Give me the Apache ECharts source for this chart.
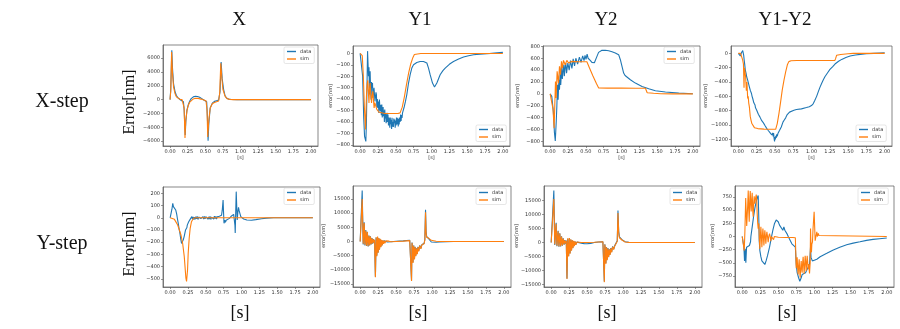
<!DOCTYPE html>
<html>
<head>
<meta charset="utf-8">
<script src="https://cdn.jsdelivr.net/npm/echarts@6/dist/echarts.min.js"></script>
<style>
  html, body { margin: 0; padding: 0; background: #fff; }
  #chart { width: 900px; height: 329px; }
</style>
</head>
<body>
<div id="chart"></div>
<script>
// Column and row headings
const columns = ['X', 'Y1', 'Y2', 'Y1-Y2'];
const rows = ['X-step', 'Y-step'];
const seriesNames = ['data', 'sim'];

// Tick values
const timeTicks = [0, 0.25, 0.5, 0.75, 1.0, 1.25, 1.5, 1.75, 2.0];
const ticksXstepX = [-6000, -4000, -2000, 0, 2000, 4000, 6000];
const ticksXstepY1 = [-800, -700, -600, -500, -400, -300, -200, -100, 0];
const ticksXstepY2 = [-800, -600, -400, -200, 0, 200, 400, 600, 800];
const ticksXstepY12 = [-1200, -1000, -800, -600, -400, -200, 0];
const ticksYstepX = [-500, -400, -300, -200, -100, 0, 100, 200];
const ticksYstepY1 = [-15000, -10000, -5000, 0, 5000, 10000, 15000];
const ticksYstepY2 = [-15000, -10000, -5000, 0, 5000, 10000, 15000];
const ticksYstepY12 = [-750, -500, -250, 0, 250, 500, 750];

// ---- X-step response: [time s, error nm] ----
const xStepX_data = [[0,0],[0.01,1500],[0.025,7150],[0.035,4500],[0.05,2300],[0.07,1200],[0.09,600],[0.11,300],[0.13,100],[0.15,-50],[0.17,-150],[0.19,-300],[0.2,-1500],[0.215,-5100],[0.225,-3000],[0.24,-1500],[0.26,-700],[0.28,-200],[0.3,150],[0.33,400],[0.36,480],[0.39,450],[0.42,350],[0.45,150],[0.48,-50],[0.5,-200],[0.52,-300],[0.53,-2500],[0.54,-5950],[0.55,-3500],[0.57,-1200],[0.6,-500],[0.63,-250],[0.66,-150],[0.69,-50],[0.71,1200],[0.725,5450],[0.74,3000],[0.76,1500],[0.78,600],[0.8,250],[0.83,80],[0.87,20],[0.95,0],[2,0]];
const xStepX_sim = [[0,0],[0.01,1200],[0.022,6900],[0.035,3800],[0.05,1800],[0.07,900],[0.09,400],[0.11,200],[0.14,50],[0.17,0],[0.19,-100],[0.2,-1200],[0.212,-5550],[0.222,-3200],[0.24,-1600],[0.26,-800],[0.28,-350],[0.3,-100],[0.33,100],[0.36,200],[0.4,180],[0.44,80],[0.48,-50],[0.51,-150],[0.525,-1500],[0.535,-5400],[0.55,-3000],[0.57,-1200],[0.6,-600],[0.63,-400],[0.66,-300],[0.69,-200],[0.705,1000],[0.72,5250],[0.735,3200],[0.75,1500],[0.78,500],[0.81,150],[0.85,30],[0.9,0],[2,0]];

const xStepY1_data = [[0,0],[0.02,-5],[0.035,-200],[0.05,-560],[0.062,-725],[0.072,-740],[0.08,-770],[0.088,-600],[0.097,-250],[0.104,20],[0.11,-80],[0.117,-200],[0.124,-120],[0.131,-360],[0.136,-210],[0.14,-157],[0.147,-330],[0.154,-404],[0.16,-250],[0.166,-300],[0.173,-259],[0.18,-390],[0.187,-375],[0.194,-300],[0.201,-288],[0.208,-420],[0.215,-433],[0.222,-340],[0.228,-360],[0.234,-470],[0.241,-400],[0.248,-477],[0.256,-420],[0.262,-520],[0.27,-404],[0.276,-470],[0.283,-506],[0.29,-450],[0.297,-540],[0.304,-448],[0.31,-560],[0.316,-500],[0.322,-470],[0.327,-550],[0.334,-500],[0.34,-600],[0.345,-491],[0.352,-570],[0.358,-530],[0.364,-610],[0.37,-579],[0.377,-520],[0.383,-600],[0.39,-535],[0.397,-630],[0.404,-560],[0.41,-600],[0.416,-650],[0.422,-560],[0.428,-620],[0.435,-580],[0.441,-660],[0.447,-564],[0.453,-640],[0.46,-600],[0.466,-643],[0.472,-570],[0.478,-610],[0.485,-579],[0.491,-650],[0.497,-590],[0.503,-631],[0.509,-560],[0.515,-620],[0.521,-600],[0.528,-564],[0.534,-640],[0.54,-575],[0.547,-622],[0.553,-560],[0.56,-600],[0.567,-535],[0.574,-590],[0.58,-540],[0.587,-564],[0.594,-520],[0.607,-510],[0.62,-462],[0.635,-420],[0.654,-360],[0.678,-259],[0.701,-186],[0.724,-128],[0.748,-99],[0.771,-85],[0.794,-79],[0.841,-70],[0.888,-70],[0.935,-84],[0.958,-128],[0.981,-186],[1.014,-259],[1.042,-294],[1.055,-290],[1.075,-259],[1.121,-186],[1.16,-150],[1.192,-128],[1.25,-95],[1.308,-70],[1.38,-48],[1.449,-32],[1.52,-20],[1.589,-12],[1.68,-6],[1.776,-3],[1.88,3],[2.0,9]];
const xStepY1_sim = [[0,0],[0.02,0],[0.03,-20],[0.045,-200],[0.06,-480],[0.075,-666],[0.082,-500],[0.09,-350],[0.1,-260],[0.107,-235],[0.115,-330],[0.124,-433],[0.13,-320],[0.14,-259],[0.148,-350],[0.16,-433],[0.166,-380],[0.178,-332],[0.186,-400],[0.196,-477],[0.205,-430],[0.215,-450],[0.234,-490],[0.248,-506],[0.265,-515],[0.29,-522],[0.35,-525],[0.45,-525],[0.53,-525],[0.56,-520],[0.59,-470],[0.62,-380],[0.65,-270],[0.68,-170],[0.71,-90],[0.74,-35],[0.76,-10],[0.78,-2],[0.85,0],[2.0,0]];

const xStepY2_data = [[0,0],[0.023,-42],[0.045,-300],[0.06,-650],[0.072,-790],[0.078,-770],[0.086,-450],[0.094,-210],[0.103,154],[0.112,-98],[0.122,239],[0.131,70],[0.141,379],[0.148,150],[0.155,126],[0.164,463],[0.171,250],[0.178,239],[0.185,420],[0.192,491],[0.199,300],[0.206,323],[0.213,480],[0.22,519],[0.23,350],[0.239,379],[0.248,520],[0.258,547],[0.267,400],[0.276,418],[0.285,560],[0.295,564],[0.305,430],[0.314,463],[0.323,590],[0.333,587],[0.342,470],[0.351,491],[0.36,600],[0.375,604],[0.385,500],[0.398,519],[0.41,620],[0.422,620],[0.433,530],[0.445,547],[0.456,640],[0.468,632],[0.475,560],[0.482,564],[0.489,650],[0.496,660],[0.503,580],[0.511,575],[0.518,670],[0.525,648],[0.532,600],[0.539,587],[0.55,570],[0.562,564],[0.575,540],[0.585,530],[0.6,519],[0.609,515],[0.62,525],[0.632,547],[0.656,632],[0.679,699],[0.7,720],[0.726,733],[0.773,735],[0.82,727],[0.867,710],[0.913,690],[0.94,676],[0.96,660],[0.984,575],[1.007,463],[1.03,351],[1.05,310],[1.077,283],[1.124,239],[1.194,182],[1.288,126],[1.382,87],[1.475,53],[1.616,31],[1.803,14],[2.0,3]];
const xStepY2_sim = [[0,0],[0.023,-14],[0.04,-250],[0.056,-575],[0.065,-200],[0.075,210],[0.084,-70],[0.098,379],[0.117,182],[0.131,463],[0.145,323],[0.159,547],[0.173,435],[0.187,564],[0.211,491],[0.234,564],[0.258,519],[0.3,547],[0.4,540],[0.515,540],[0.55,440],[0.6,300],[0.65,170],[0.68,100],[0.8,98],[1.0,98],[1.2,96],[1.335,95],[1.36,20],[1.45,10],[1.55,4],[1.71,0],[2.0,0]];

const xStepY12_data = [[0,0],[0.014,0],[0.028,-37],[0.035,-10],[0.041,5],[0.05,23],[0.06,40],[0.066,10],[0.073,-23],[0.08,-93],[0.087,-150],[0.095,-230],[0.106,-280],[0.115,-330],[0.122,-310],[0.128,-374],[0.135,-400],[0.142,-380],[0.151,-467],[0.158,-450],[0.165,-520],[0.174,-537],[0.18,-560],[0.188,-600],[0.197,-630],[0.205,-640],[0.212,-690],[0.22,-677],[0.228,-720],[0.235,-760],[0.243,-747],[0.25,-790],[0.258,-800],[0.266,-817],[0.274,-850],[0.282,-845],[0.289,-864],[0.296,-890],[0.304,-880],[0.312,-910],[0.32,-940],[0.327,-925],[0.335,-957],[0.343,-970],[0.35,-960],[0.358,-980],[0.366,-1010],[0.373,-1000],[0.381,-1018],[0.39,-1050],[0.397,-1030],[0.404,-1037],[0.412,-1080],[0.42,-1060],[0.427,-1074],[0.435,-1110],[0.442,-1090],[0.45,-1097],[0.457,-1140],[0.463,-1144],[0.47,-1110],[0.476,-1160],[0.482,-1111],[0.488,-1180],[0.495,-1230],[0.5,-1167],[0.507,-1200],[0.512,-1150],[0.518,-1181],[0.525,-1130],[0.532,-1160],[0.541,-1120],[0.55,-1110],[0.564,-1074],[0.587,-1027],[0.61,-960],[0.628,-930],[0.647,-900],[0.665,-860],[0.679,-840],[0.7,-820],[0.725,-803],[0.76,-795],[0.794,-784],[0.862,-775],[0.931,-756],[0.97,-745],[1.0,-728],[1.025,-700],[1.046,-654],[1.07,-600],[1.092,-537],[1.115,-475],[1.138,-420],[1.16,-372],[1.183,-327],[1.22,-270],[1.252,-224],[1.29,-185],[1.321,-149],[1.37,-110],[1.413,-84],[1.47,-58],[1.528,-37],[1.6,-22],[1.665,-14],[1.75,-6],[1.849,0],[1.93,5],[2.0,9]];
const xStepY12_sim = [[0,0],[0.03,0],[0.045,-23],[0.06,-93],[0.07,-150],[0.078,-480],[0.083,-200],[0.09,-250],[0.1,-330],[0.11,-520],[0.118,-400],[0.128,-630],[0.135,-600],[0.142,-690],[0.151,-747],[0.163,-880],[0.174,-934],[0.185,-980],[0.197,-1004],[0.22,-1037],[0.266,-1050],[0.35,-1058],[0.45,-1060],[0.51,-1060],[0.532,-980],[0.555,-840],[0.578,-677],[0.6,-514],[0.624,-374],[0.647,-257],[0.67,-160],[0.69,-115],[0.72,-103],[0.8,-100],[1.0,-100],[1.2,-100],[1.32,-98],[1.33,-70],[1.344,-25],[1.4,-15],[1.5,-5],[1.57,0],[2.0,0]];

// ---- Y-step response: [time s, error nm] ----
const yStepX_data = [[0,0],[0.014,0],[0.025,70],[0.037,118],[0.046,91],[0.055,105],[0.064,85],[0.078,64],[0.092,30],[0.101,-4],[0.115,-50],[0.124,-86],[0.138,-130],[0.147,-168],[0.16,-210],[0.166,-222],[0.175,-200],[0.184,-181],[0.19,-175],[0.198,-150],[0.207,-140],[0.216,-100],[0.226,-86],[0.235,-80],[0.24,-60],[0.26,-32],[0.28,-13],[0.29,-5],[0.304,9],[0.313,-10],[0.322,8],[0.332,-15],[0.341,5],[0.35,-12],[0.36,10],[0.37,-8],[0.38,12],[0.39,-14],[0.4,6],[0.41,-10],[0.42,14],[0.43,-6],[0.44,10],[0.45,-14],[0.46,8],[0.47,-10],[0.48,12],[0.49,-8],[0.5,10],[0.51,-6],[0.52,14],[0.53,-12],[0.54,8],[0.55,-10],[0.56,12],[0.57,-14],[0.58,6],[0.59,-8],[0.6,10],[0.61,-12],[0.62,14],[0.63,-6],[0.64,12],[0.65,-10],[0.66,8],[0.67,16],[0.68,-8],[0.69,12],[0.7,4],[0.71,10],[0.72,20],[0.73,60],[0.742,145],[0.75,20],[0.755,-45],[0.765,-20],[0.775,-38],[0.785,-20],[0.795,-32],[0.81,-15],[0.83,-5],[0.85,10],[0.86,15],[0.87,25],[0.88,18],[0.89,28],[0.9,20],[0.908,-60],[0.912,-125],[0.919,50],[0.926,214],[0.935,60],[0.94,-18],[0.948,40],[0.958,85],[0.966,60],[0.972,50],[0.99,9],[1.03,-10],[1.075,-18],[1.14,-20],[1.2,-15],[1.28,-8],[1.35,-3],[1.45,0],[2.0,0]];
const yStepX_sim = [[0,0],[0.014,0],[0.06,-13],[0.106,-59],[0.152,-141],[0.175,-209],[0.198,-318],[0.212,-427],[0.221,-495],[0.23,-522],[0.244,-427],[0.253,-291],[0.267,-168],[0.281,-86],[0.299,-32],[0.327,-4],[0.359,0],[2.0,0]];

const yStepY1_data = [[0,0],[0.015,0],[0.028,18000],[0.042,-1100],[0.056,6800],[0.066,-1400],[0.078,4000],[0.088,-1600],[0.1,3400],[0.111,-1800],[0.122,2100],[0.132,-1400],[0.143,1800],[0.153,-1100],[0.164,1200],[0.174,-800],[0.185,800],[0.195,-400],[0.2,600],[0.212,-12500],[0.222,1400],[0.232,-5000],[0.242,1600],[0.251,-3900],[0.26,1100],[0.269,-2800],[0.278,800],[0.288,-1900],[0.297,500],[0.306,-1300],[0.316,300],[0.325,-800],[0.334,200],[0.343,-500],[0.36,100],[0.38,-200],[0.4,50],[0.43,-100],[0.5,50],[0.6,200],[0.69,400],[0.705,500],[0.715,-13800],[0.722,-400],[0.729,-2400],[0.736,-7400],[0.745,-1400],[0.756,-6200],[0.765,-1900],[0.775,-5000],[0.785,-2400],[0.795,-4300],[0.805,-1900],[0.815,-3300],[0.83,-1400],[0.845,-2400],[0.86,-1100],[0.875,-1600],[0.89,-700],[0.9,600],[0.91,11200],[0.918,3500],[0.925,1800],[0.937,2400],[0.946,1400],[0.956,900],[0.974,300],[0.99,-200],[1.012,-350],[1.058,-300],[1.1,-200],[1.2,-60],[1.3,0],[2.0,0]];
const yStepY1_sim = [[0,0],[0.015,0],[0.028,15000],[0.042,-800],[0.056,6500],[0.066,-1200],[0.078,3800],[0.088,-1500],[0.1,3300],[0.111,-1700],[0.122,2000],[0.132,-1300],[0.143,1700],[0.153,-1000],[0.164,1100],[0.174,-700],[0.185,700],[0.195,-300],[0.2,500],[0.212,-12700],[0.222,1500],[0.232,-5200],[0.242,1700],[0.251,-4000],[0.26,1200],[0.269,-2900],[0.278,900],[0.288,-2000],[0.297,600],[0.306,-1400],[0.316,400],[0.325,-900],[0.334,300],[0.343,-600],[0.36,200],[0.38,-300],[0.4,100],[0.43,-100],[0.5,0],[0.6,100],[0.69,300],[0.705,400],[0.715,-14000],[0.722,-500],[0.729,-2500],[0.736,-7600],[0.745,-1500],[0.756,-6400],[0.765,-2000],[0.775,-5200],[0.785,-2500],[0.795,-4500],[0.805,-2000],[0.815,-3500],[0.83,-1500],[0.845,-2600],[0.86,-1200],[0.875,-1800],[0.89,-800],[0.9,500],[0.91,10300],[0.918,3000],[0.925,1500],[0.937,2060],[0.946,1500],[0.956,1100],[0.974,900],[0.99,400],[1.012,200],[1.058,50],[1.1,0],[2.0,0]];

const yStepY2_data = [[0,0],[0.02,0],[0.037,18500],[0.05,-900],[0.069,7000],[0.08,-1300],[0.096,4200],[0.108,-1500],[0.12,3300],[0.132,-1400],[0.144,2200],[0.156,-1100],[0.168,1500],[0.18,-800],[0.19,900],[0.2,-400],[0.21,700],[0.22,-12800],[0.23,1300],[0.243,-4800],[0.253,1500],[0.263,-3800],[0.273,1100],[0.283,-2700],[0.293,800],[0.303,-1800],[0.313,500],[0.323,-1200],[0.333,300],[0.343,-700],[0.36,150],[0.38,-250],[0.42,-200],[0.46,-400],[0.5,-450],[0.55,-300],[0.6,0],[0.66,200],[0.72,300],[0.73,400],[0.74,-13900],[0.747,-600],[0.755,-2600],[0.762,-7300],[0.77,-1600],[0.78,-6000],[0.79,-2000],[0.8,-5000],[0.81,-2400],[0.82,-4200],[0.83,-2000],[0.842,-3300],[0.855,-1400],[0.87,-2300],[0.885,-1100],[0.9,-1500],[0.912,-700],[0.92,600],[0.93,11400],[0.94,4000],[0.95,2000],[0.96,2650],[0.97,1800],[0.985,1000],[1.0,600],[1.03,300],[1.08,100],[1.15,0],[2.0,0]];
const yStepY2_sim = [[0,0],[0.02,0],[0.037,15500],[0.05,-650],[0.069,6700],[0.08,-1100],[0.096,4000],[0.108,-1400],[0.12,3200],[0.132,-1300],[0.144,2100],[0.156,-1000],[0.168,1400],[0.18,-700],[0.19,800],[0.2,-300],[0.21,600],[0.22,-13000],[0.23,1500],[0.243,-5000],[0.253,1600],[0.263,-4000],[0.273,1200],[0.283,-2900],[0.293,900],[0.303,-2000],[0.313,600],[0.323,-1300],[0.333,400],[0.343,-800],[0.36,200],[0.38,-300],[0.42,0],[0.5,0],[0.6,100],[0.72,300],[0.73,400],[0.74,-14100],[0.747,-700],[0.755,-2700],[0.762,-7600],[0.77,-1700],[0.78,-6300],[0.79,-2100],[0.8,-5200],[0.81,-2500],[0.82,-4400],[0.83,-2100],[0.842,-3500],[0.855,-1500],[0.87,-2500],[0.885,-1200],[0.9,-1700],[0.912,-800],[0.92,500],[0.93,10500],[0.94,3500],[0.95,1700],[0.96,2060],[0.97,1500],[0.985,900],[1.0,500],[1.03,200],[1.08,50],[1.15,0],[2.0,0]];

const yStepY12_data = [[0,0],[0.01,0],[0.023,-203],[0.032,-463],[0.041,-235],[0.05,-495],[0.06,-203],[0.069,-235],[0.083,-203],[0.1,-170],[0.115,-100],[0.12,0],[0.138,183],[0.157,376],[0.175,537],[0.194,666],[0.207,730],[0.221,776],[0.23,312],[0.235,-74],[0.244,-267],[0.258,-383],[0.272,-463],[0.295,-495],[0.313,-530],[0.33,-463],[0.35,-364],[0.378,-203],[0.4,-42],[0.424,119],[0.447,248],[0.47,312],[0.479,330],[0.498,280],[0.516,216],[0.539,183],[0.562,119],[0.576,183],[0.59,119],[0.604,151],[0.618,55],[0.64,-10],[0.664,-74],[0.687,-138],[0.71,-170],[0.735,-200],[0.747,-525],[0.76,-686],[0.78,-782],[0.797,-847],[0.806,-870],[0.816,-782],[0.83,-718],[0.853,-750],[0.876,-686],[0.899,-621],[0.912,-650],[0.931,-525],[0.945,-203],[0.952,-396],[0.97,-463],[0.995,-450],[1.032,-431],[1.078,-383],[1.17,-319],[1.26,-254],[1.35,-203],[1.445,-158],[1.535,-126],[1.63,-100],[1.72,-74],[1.81,-55],[1.9,-42],[2.0,-29]];
const yStepY12_sim = [[0,0],[0.018,0],[0.028,-267],[0.037,100],[0.048,730],[0.055,740],[0.062,200],[0.069,183],[0.076,600],[0.083,872],[0.09,500],[0.097,280],[0.104,700],[0.111,860],[0.118,600],[0.124,473],[0.131,700],[0.138,827],[0.145,500],[0.152,376],[0.159,650],[0.166,763],[0.173,620],[0.18,602],[0.187,740],[0.194,795],[0.2,700],[0.207,441],[0.214,250],[0.221,150],[0.23,248],[0.237,-50],[0.244,-235],[0.251,0],[0.258,183],[0.265,0],[0.272,-203],[0.279,0],[0.286,151],[0.293,0],[0.3,-170],[0.307,0],[0.313,119],[0.32,0],[0.327,-138],[0.334,0],[0.341,87],[0.35,0],[0.359,-106],[0.368,0],[0.378,55],[0.387,0],[0.396,-87],[0.405,0],[0.415,35],[0.424,0],[0.433,-61],[0.445,0],[0.461,-10],[0.5,-15],[0.6,-20],[0.7,-20],[0.735,-25],[0.747,-602],[0.754,-450],[0.76,-396],[0.767,-600],[0.774,-718],[0.781,-550],[0.788,-431],[0.795,-650],[0.802,-782],[0.809,-600],[0.816,-463],[0.822,-600],[0.829,-686],[0.836,-500],[0.843,-383],[0.85,-550],[0.857,-705],[0.864,-520],[0.871,-364],[0.878,-500],[0.885,-653],[0.892,-480],[0.899,-364],[0.906,-500],[0.912,-621],[0.92,-520],[0.931,-700],[0.94,-500],[0.945,150],[0.952,-200],[0.958,-300],[0.963,-150],[0.972,-100],[0.98,150],[0.995,470],[1.002,200],[1.009,-80],[1.02,0],[1.032,87],[1.04,0],[1.046,-20],[1.053,60],[1.06,20],[1.08,0],[2.0,0]];

// ---- Layout of the eight panels ----
const panels = [
  { box: [163, 45, 155, 101], y: [-6700, 7900], ticks: ticksXstepX, d: xStepX_data, s: xStepX_sim, leg: [284, 47], yName: null },
  { box: [353, 46, 157, 100], y: [-810, 65], ticks: ticksXstepY1, d: xStepY1_data, s: xStepY1_sim, leg: [476, 125], yName: [331, 96] },
  { box: [543, 46, 157, 100], y: [-876, 806], ticks: ticksXstepY2, d: xStepY2_data, s: xStepY2_sim, leg: [664, 47], yName: [518, 96] },
  { box: [731, 46, 161, 100], y: [-1293, 103], ticks: ticksXstepY12, d: xStepY12_data, s: xStepY12_sim, leg: [856, 125], yName: [706, 96] },
  { box: [163, 187, 157, 100], y: [-567, 252], ticks: ticksYstepX, d: yStepX_data, s: yStepX_sim, leg: [284, 188], yName: null },
  { box: [353, 186, 158, 101], y: [-16125, 19625], ticks: ticksYstepY1, d: yStepY1_data, s: yStepY1_sim, leg: [476, 188], yName: [324, 236] },
  { box: [544, 186, 158, 101], y: [-15835, 20135], ticks: ticksYstepY2, d: yStepY2_data, s: yStepY2_sim, leg: [670, 188], yName: [517, 236] },
  { box: [735, 186, 159, 101], y: [-957, 957], ticks: ticksYstepY12, d: yStepY12_data, s: yStepY12_sim, leg: [858, 188], yName: [713, 236] }
];

const BLUE = '#1f77b4', ORANGE = '#ff7f0e';
const AX = '#555', LBL = '#333';
const SERIF = '"Liberation Serif", "Times New Roman", serif';
const SANS = '"DejaVu Sans", sans-serif';
const minus = v => String(v).replace('-', '\u2212');

const grid = [], xAxis = [], yAxis = [], series = [], legend = [], graphic = [];

panels.forEach((p, i) => {
  const [l, t, w, h] = p.box;
  grid.push({ left: l, top: t, width: w, height: h, show: true, borderColor: AX, borderWidth: 0.7, containLabel: false });
  xAxis.push({
    type: 'value', gridIndex: i, min: -0.1, max: 2.1,
    axisLine: { show: true, onZero: false, lineStyle: { color: AX, width: 0.7 } },
    splitLine: { show: false },
    axisTick: { show: true, length: 2, lineStyle: { color: AX, width: 0.6 }, customValues: timeTicks },
    axisLabel: { customValues: timeTicks, fontSize: 5, fontFamily: SANS, color: LBL, margin: 3,
      formatter: v => v.toFixed(2) }
  });
  yAxis.push({
    type: 'value', gridIndex: i, min: p.y[0], max: p.y[1],
    axisLine: { show: true, onZero: false, lineStyle: { color: AX, width: 0.7 } },
    splitLine: { show: false },
    axisTick: { show: true, length: 2, lineStyle: { color: AX, width: 0.6 }, customValues: p.ticks },
    axisLabel: { customValues: p.ticks, fontSize: 5, fontFamily: SANS, color: LBL, margin: 3, formatter: minus }
  });
  series.push({ type: 'line', name: seriesNames[0], xAxisIndex: i, yAxisIndex: i, data: p.d,
    symbol: 'none', showSymbol: false, clip: true,
    lineStyle: { color: BLUE, width: 1.1 }, itemStyle: { color: BLUE } });
  series.push({ type: 'line', name: seriesNames[1], xAxisIndex: i, yAxisIndex: i, data: p.s,
    symbol: 'none', showSymbol: false, clip: true,
    lineStyle: { color: ORANGE, width: 1.1 }, itemStyle: { color: ORANGE } });
  legend.push({
    orient: 'vertical', left: p.leg[0], top: p.leg[1], data: seriesNames, selectedMode: false,
    icon: 'rect', itemWidth: 9, itemHeight: 1.4, itemGap: 2.5,
    textStyle: { fontSize: 5, fontFamily: SANS, color: LBL, padding: [0, 0, 0, -1] },
    padding: [2, 3, 2, 3], borderColor: '#ccc', borderWidth: 0.5, borderRadius: 1.5,
    backgroundColor: 'rgba(255,255,255,0.85)'
  });
  // small axis captions inside each panel
  if (i < 4) {
    graphic.push({ type: 'text', x: l + w / 2, y: t + h + 12, silent: true,
      style: { text: '[s]', font: '5px ' + SANS, fill: LBL, align: 'center', verticalAlign: 'middle' } });
  }
  if (p.yName) {
    graphic.push({ type: 'text', x: p.yName[0], y: p.yName[1], rotation: Math.PI / 2, silent: true,
      style: { text: 'error[nm]', font: '5px ' + SANS, fill: LBL, align: 'center', verticalAlign: 'middle' } });
  }
});

// column titles
const titleX = [239, 420, 606, 785];
columns.forEach((c, i) => graphic.push({ type: 'text', x: titleX[i], y: 20, silent: true,
  style: { text: c, font: '19px ' + SERIF, fill: '#111', align: 'center', verticalAlign: 'middle' } }));
// row titles and shared y label
const rowY = [102, 244];
rows.forEach((r, i) => {
  graphic.push({ type: 'text', x: 62, y: rowY[i], silent: true,
    style: { text: r, font: '20px ' + SERIF, fill: '#111', align: 'center', verticalAlign: 'middle' } });
  graphic.push({ type: 'text', x: 130, y: rowY[i], rotation: Math.PI / 2, silent: true,
    style: { text: 'Error[nm]', font: '16px ' + SERIF, fill: '#111', align: 'center', verticalAlign: 'middle' } });
});
// shared time label under each column
const sX = [240, 418, 607, 787];
sX.forEach(x => graphic.push({ type: 'text', x: x, y: 313, silent: true,
  style: { text: '[s]', font: '18px ' + SERIF, fill: '#111', align: 'center', verticalAlign: 'middle' } }));

const chart = echarts.init(document.getElementById('chart'), null, { renderer: 'canvas' });
chart.setOption({
  animation: false,
  backgroundColor: '#fff',
  grid, xAxis, yAxis, series, legend, graphic
});
</script>
</body>
</html>
